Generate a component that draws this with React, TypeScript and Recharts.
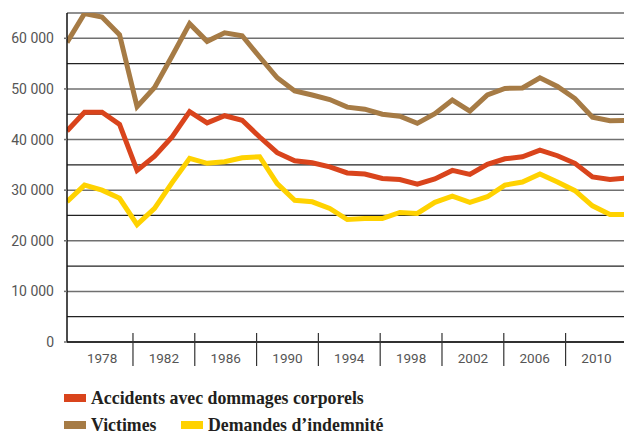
import { CartesianGrid, Line, LineChart, XAxis, YAxis } from "recharts"

// one point per year
const accidents = [
  41700, 45400, 45400, 43000, 33900, 36700, 40500, 45500, 43300, 44700, 43800,
  40500, 37400, 35800, 35400, 34600, 33400, 33200, 32300, 32100, 31200, 32200,
  33900, 33100, 35100, 36200, 36600, 37900, 36800, 35300, 32600, 32100, 32400,
]
const victimes = [
  59200, 64900, 64200, 60700, 46500, 50300, 56500, 62900, 59400, 61100, 60500,
  56300, 52200, 49600, 48800, 47900, 46400, 46000, 45000, 44600, 43200, 45100,
  47800, 45600, 48800, 50100, 50200, 52200, 50500, 48100, 44400, 43700, 43800,
]
const demandes = [
  27700, 31000, 30000, 28400, 23200, 26400, 31500, 36300, 35300, 35600, 36400,
  36600, 31300, 28000, 27700, 26400, 24200, 24400, 24400, 25600, 25400, 27600,
  28800, 27600, 28700, 31000, 31600, 33200, 31600, 29900, 26900, 25200, 25200,
]

const yearLabels = ["1978", "1982", "1986", "1990", "1994", "1998", "2002", "2006", "2010"]
const separatorYears = [1980, 1984, 1988, 1992, 1996, 2000, 2004, 2008]
const yTicks = [0, 5000, 10000, 15000, 20000, 25000, 30000, 35000, 40000, 45000, 50000, 55000, 60000, 65000]

const series = [
  { key: "victimes", name: "Victimes", color: "#A67B45" },
  { key: "accidents", name: "Accidents avec dommages corporels", color: "#D9441C" },
  { key: "demandes", name: "Demandes d\u2019indemnité", color: "#FFD200" },
]

const data = victimes.map((v, i) => ({
  i,
  victimes: v,
  accidents: accidents[i],
  demandes: demandes[i],
}))

const labelTicks = [...yearLabels.map(Number), ...separatorYears].sort((a, b) => a - b)
// the year axis is drawn over the data independently, it needs its own rows
const yearRows = labelTicks.map((yr) => ({ yr, none: null }))

const tickFont = "Roboto, sans-serif"

const YTick = ({ x, y, payload }: any) => {
  if (payload.value % 10000 !== 0) return null
  const txt = payload.value === 0 ? "0" : `${payload.value / 1000} 000`
  return (
    <g>
      <line x1={x - 3} x2={x} y1={y} y2={y} stroke="#707070" strokeWidth={1.5} />
      <text x={x - 13} y={y} textAnchor="end" dominantBaseline="central"
        fontFamily={tickFont} fontSize={14} fill="#555">{txt}</text>
    </g>
  )
}

const YearTick = ({ x, y, payload }: any) => {
  if (separatorYears.includes(payload.value)) {
    return <line x1={x} x2={x} y1={y - 9} y2={y + 24} stroke="#333" strokeWidth={1.2} />
  }
  return (
    <text x={x} y={y + 16} textAnchor="middle" dominantBaseline="central"
      fontFamily={tickFont} fontSize={13.5} fill="#555">{payload.value}</text>
  )
}

const gridLine = (props: any) => {
  const labelled = yTicks[props.index] % 10000 === 0
  return (
    <line key={props.key} x1={props.x1} x2={props.x2} y1={props.y1} y2={props.y2}
      stroke={labelled ? "#707070" : "#222"} strokeWidth={labelled ? 1.5 : 1.2} />
  )
}

const LegendItem = ({ color, name }: { color: string; name: string }) => (
  <div style={{ display: "flex", alignItems: "center", whiteSpace: "nowrap" }}>
    <div style={{ width: 22, height: 8, background: color, marginRight: 5 }} />
    <span>{name}</span>
  </div>
)

export default function App() {
  return (
    <div style={{ position: "absolute", left: 0, top: 0, width: 624, height: 433, background: "#fff" }}>
      <LineChart width={624} height={433} data={data}
        margin={{ top: 13, right: 0, bottom: 61, left: 0 }}>
        <CartesianGrid vertical={false} horizontal={gridLine} />
        <XAxis dataKey="i" type="number" domain={[0, 31.8]} allowDataOverflow hide height={0} />
        <XAxis xAxisId="lab" dataKey="yr" type="number" domain={[1975.73, 2011.78]} allowDataOverflow
          ticks={labelTicks} interval={0} tick={<YearTick />} tickLine={false}
          tickSize={0} tickMargin={0} height={30}
          axisLine={{ stroke: "#111", strokeWidth: 1.5 }} />
        <YAxis domain={[0, 65000]} ticks={yTicks} interval={0} allowDataOverflow width={67}
          tick={<YTick />} tickLine={false} tickSize={0} tickMargin={0}
          axisLine={{ stroke: "#111", strokeWidth: 1.5 }} />
        <Line xAxisId="lab" data={yearRows} dataKey="none" stroke="none" dot={false}
          activeDot={false} legendType="none" isAnimationActive={false} />
        {series.map((s) => (
          <Line key={s.key} dataKey={s.key} name={s.name} stroke={s.color} strokeWidth={5}
            dot={false} activeDot={false} isAnimationActive={false} />
        ))}
      </LineChart>
      <div style={{
        position: "absolute", left: 64, top: 390, width: 500, fontFamily: "'Liberation Serif', serif",
        fontWeight: "bold", fontSize: 17.8, color: "#231f20", lineHeight: "16px",
      }}>
        <LegendItem color={series[1].color} name={series[1].name} />
        <div style={{ display: "flex", marginTop: 11 }}>
          <div style={{ width: 117 }}>
            <LegendItem color={series[0].color} name={series[0].name} />
          </div>
          <LegendItem color={series[2].color} name={series[2].name} />
        </div>
      </div>
    </div>
  )
}
